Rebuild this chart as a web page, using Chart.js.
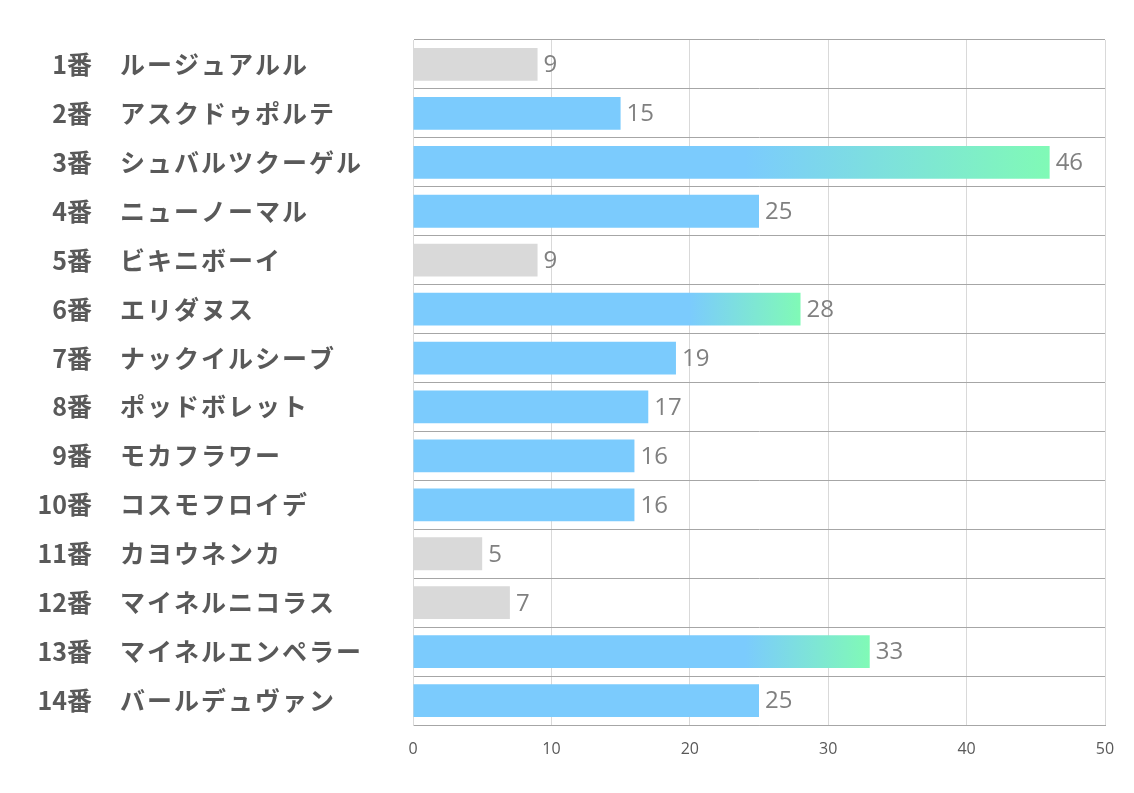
<!DOCTYPE html>
<html>
<head>
<meta charset="utf-8">
<script src="https://cdn.jsdelivr.net/npm/chart.js@4"></script>
<style>
html,body{margin:0;padding:0;background:#fff;}
#wrap{width:1134px;height:793px;position:relative;}
</style>
</head>
<body>
<div id="wrap"><canvas id="c" width="1134" height="793"></canvas></div>
<script>
const horseNumbers = ['1番','2番','3番','4番','5番','6番','7番','8番','9番','10番','11番','12番','13番','14番'];
const horseNames = ['ルージュアルル','アスクドゥポルテ','シュバルツクーゲル','ニューノーマル','ビキニボーイ','エリダヌス','ナックイルシーブ','ポッドボレット','モカフラワー','コスモフロイデ','カヨウネンカ','マイネルニコラス','マイネルエンペラー','バールデュヴァン'];
const values = [9,15,46,25,9,28,19,17,16,16,5,7,33,25];
const xTicks = [0,10,20,30,40,50];

const BLUE = '#7BCBFD';
const GREEN = '#80FAB6';
const GRAY = '#D9D9D9';
const topThird = [...values].sort((a,b)=>b-a)[2];

function barColor(ctx){
  const v = ctx.raw;
  if (v < 10) return GRAY;
  if (v < topThird) return BLUE;
  const chart = ctx.chart;
  const xs = chart.scales && chart.scales.x;
  if (!chart.chartArea || !xs) return BLUE;
  const x0 = xs.getPixelForValue(Math.min(v - 8, 24));
  const x1 = xs.getPixelForValue(v);
  const g = chart.ctx.createLinearGradient(x0, 0, x1, 0);
  g.addColorStop(0, BLUE);
  g.addColorStop(1, GREEN);
  return g;
}

// letter spacing only for the horse-name axis labels
const nameSpacing = {
  id: 'nameSpacing',
  afterLayout(chart){
    const s = chart.scales.y;
    if (!s || s._spacingWrapped) return;
    const orig = s.drawLabels;
    s.drawLabels = function(area){
      const c = this.ctx;
      const prev = c.letterSpacing;
      c.letterSpacing = '2px';
      orig.call(this, area);
      c.letterSpacing = prev || '0px';
    };
    s._spacingWrapped = true;
  }
};

const valueLabels = {
  id: 'valueLabels',
  afterDatasetsDraw(chart){
    const ctx = chart.ctx;
    const meta = chart.getDatasetMeta(0);
    ctx.save();
    ctx.font = '24px "Open Sans"';
    ctx.fillStyle = '#808080';
    ctx.textAlign = 'left';
    ctx.textBaseline = 'middle';
    meta.data.forEach((bar, i) => {
      ctx.fillText(String(values[i]), bar.x + 6, bar.y + 1);
    });
    ctx.restore();
  }
};

function fixY(width){
  return function(scale){
    scale.width = width;
    scale.paddingTop = 0;
    scale.paddingBottom = 0;
  };
}

new Chart(document.getElementById('c'), {
  type: 'bar',
  data: {
    labels: horseNames,
    datasets: [{
      data: values,
      backgroundColor: barColor,
      borderWidth: 0,
      barPercentage: 0.67,
      categoryPercentage: 1.0
    }]
  },
  options: {
    indexAxis: 'y',
    responsive: false,
    animation: false,
    devicePixelRatio: 1,
    layout: { padding: { top: 40, right: 29, left: 0, bottom: 0 } },
    plugins: { legend: { display: false }, tooltip: { enabled: false } },
    scales: {
      x: {
        type: 'linear',
        position: 'bottom',
        min: 0, max: 50,
        afterBuildTicks(scale){ scale.ticks = xTicks.map(v => ({value: v})); },
        afterFit(scale){ scale.height = 68; },
        grid: { color: '#D9D9D9', lineWidth: 1, drawTicks: false },
        border: { color: '#A6A6A6', width: 1 },
        ticks: { padding: 15, color: '#595959', font: { family: '"Open Sans"', size: 16 } }
      },
      y: {
        type: 'category',
        position: 'left',
        weight: 0,
        offset: true,
        afterFit: fixY(293),
        grid: { offset: true, color: '#A6A6A6', lineWidth: 1, drawTicks: false },
        border: { color: '#D9D9D9', width: 1 },
        ticks: { crossAlign: 'far', padding: 0, color: '#595959', font: { family: '"Noto Sans CJK JP"', size: 25, weight: 'bold' } }
      },
      y2: {
        type: 'category',
        position: 'left',
        weight: 1,
        offset: true,
        labels: horseNumbers,
        afterFit: fixY(120),
        grid: { display: false, drawTicks: false },
        border: { display: false },
        ticks: { crossAlign: 'near', padding: 28, color: '#595959', font: { family: '"Noto Sans CJK JP"', size: 25, weight: 'bold' } }
      }
    }
  },
  plugins: [nameSpacing, valueLabels]
});
</script>
</body>
</html>
